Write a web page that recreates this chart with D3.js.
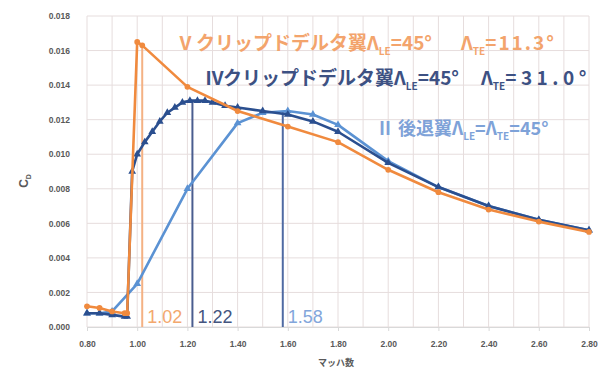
<!DOCTYPE html>
<html>
<head>
<meta charset="utf-8">
<script src="https://cdn.jsdelivr.net/npm/d3@7"></script>
<style>
  body { margin: 0; background: #fff; }
  svg text { font-family: "Liberation Sans", Arial, sans-serif; }
  .jp { font-family: "Noto Sans CJK JP", "Liberation Sans", sans-serif; font-weight: bold; }
</style>
</head>
<body>
<div id="chart"></div>
<script>
// data
const xTicks = [0.8, 1.0, 1.2, 1.4, 1.6, 1.8, 2.0, 2.2, 2.4, 2.6, 2.8];
const yTicks = [0, 0.002, 0.004, 0.006, 0.008, 0.010, 0.012, 0.014, 0.016, 0.018];

const machV = [0.80, 0.85, 0.90, 0.95, 0.96, 1.00, 1.02, 1.20, 1.40, 1.60, 1.80, 2.00, 2.20, 2.40, 2.60, 2.80];
const cdV   = [0.0012, 0.0011, 0.0009, 0.0008, 0.0008, 0.0165, 0.0163, 0.0139, 0.0125, 0.0116, 0.0107, 0.0091, 0.0078, 0.0068, 0.0061, 0.0055];

const machIV = [0.80, 0.85, 0.90, 0.95, 0.96, 0.98, 1.00, 1.03, 1.06, 1.09, 1.12, 1.15, 1.18, 1.21, 1.24, 1.27, 1.30, 1.35, 1.40, 1.50, 1.60, 1.70, 1.80, 2.00, 2.20, 2.40, 2.60, 2.80];
const cdIV   = [0.0008, 0.0008, 0.0007, 0.0006, 0.0006, 0.0090, 0.0100, 0.0107, 0.0113, 0.0119, 0.0124, 0.0127, 0.0130, 0.0131, 0.0131, 0.0131, 0.0130, 0.0128, 0.0127, 0.0125, 0.0123, 0.0119, 0.0113, 0.0095, 0.0081, 0.0070, 0.0062, 0.0056];

const machII = [0.80, 0.85, 0.90, 1.00, 1.20, 1.40, 1.50, 1.60, 1.70, 1.80, 2.00, 2.20, 2.40, 2.60, 2.80];
const cdII   = [0.0008, 0.0008, 0.0009, 0.0025, 0.0080, 0.0118, 0.0124, 0.0125, 0.0123, 0.0117, 0.0096, 0.0081, 0.0070, 0.0062, 0.0056];

const peakMach = [1.02, 1.22, 1.58];
const peakCd   = [0.0163, 0.0131, 0.0125];
const peakLabels = ["1.02", "1.22", "1.58"];

const width = 602, height = 376;
const margin = {top: 16, right: 13, bottom: 49, left: 87};

const svg = d3.select("#chart").append("svg")
    .attr("width", width)
    .attr("height", height);

const x = d3.scaleLinear().domain([0.8, 2.8]).range([margin.left, width - margin.right]);
const y = d3.scaleLinear().domain([0, 0.018]).range([height - margin.bottom, margin.top]);

// grid
svg.append("g")
    .selectAll("line")
    .data(d3.range(0, 21).map(i => 0.8 + i * 0.1))
    .enter().append("line")
    .attr("x1", d => x(d)).attr("x2", d => x(d))
    .attr("y1", y(0)).attr("y2", y(0.018))
    .attr("stroke", "#e6dddd").attr("stroke-width", 1);
svg.append("g")
    .selectAll("line")
    .data(yTicks)
    .enter().append("line")
    .attr("x1", x(0.8)).attr("x2", x(2.8))
    .attr("y1", d => y(d)).attr("y2", d => y(d))
    .attr("stroke", "#e6dddd").attr("stroke-width", 1);

// axes
const xAxis = svg.append("g")
    .attr("transform", `translate(0,${y(0)})`)
    .call(d3.axisBottom(x).tickValues(xTicks).tickFormat(d3.format(".2f")).tickSize(4).tickPadding(10));
xAxis.select(".domain").attr("stroke", "#d9d9d9");
xAxis.selectAll(".tick line").attr("stroke", "#d9d9d9");
xAxis.selectAll("text").attr("fill", "#595959").style("font-size", "8.5px").style("font-weight", "bold");

const yAxis = svg.append("g")
    .attr("transform", `translate(${x(0.8) - 14},0)`)
    .call(d3.axisLeft(y).tickValues(yTicks).tickFormat(d3.format(".3f")).tickSize(0));
yAxis.select(".domain").remove();
yAxis.selectAll("text").attr("fill", "#595959").style("font-size", "8.5px").style("font-weight", "bold");

// axis titles
svg.append("text")
    .attr("class", "jp")
    .attr("x", 336).attr("y", 366)
    .attr("text-anchor", "middle")
    .attr("fill", "#595959")
    .style("font-size", "9px")
    .text("マッハ数");
const yt = svg.append("text")
    .attr("transform", "translate(28,181) rotate(-90)")
    .attr("text-anchor", "middle")
    .attr("fill", "#595959")
    .style("font-size", "12px").style("font-weight", "bold");
yt.append("tspan").text("C");
yt.append("tspan").attr("dy", 3).style("font-size", "7px").text("D");

// peak reference lines
const refColors = ["#f4b183", "#4a5d8f", "#4f6aa3"];
const labelColors = ["#f3a86e", "#44557f", "#82a6db"];
svg.append("g")
    .selectAll("line")
    .data(peakMach)
    .enter().append("line")
    .attr("x1", d => x(d)).attr("x2", d => x(d))
    .attr("y1", y(0)).attr("y2", (d, i) => y(peakCd[i]))
    .attr("stroke", (d, i) => refColors[i]).attr("stroke-width", 2);
svg.append("g")
    .selectAll("text")
    .data(peakMach)
    .enter().append("text")
    .attr("x", d => x(d) + 5)
    .attr("y", y(0) - 4)
    .attr("fill", (d, i) => labelColors[i])
    .style("font-size", "18px")
    .text((d, i) => peakLabels[i]);

// series
const series = [
  {mach: machII, cd: cdII, color: "#5b92d3", symbol: d3.symbolTriangle},
  {mach: machIV, cd: cdIV, color: "#2b4f8f", symbol: d3.symbolTriangle},
  {mach: machV, cd: cdV, color: "#f08a3e", symbol: d3.symbolCircle}
];

const line = d3.line().x(d => x(d[0])).y(d => y(d[1]));

series.forEach(s => {
  const pts = s.mach.map((m, i) => [m, s.cd[i]]);
  svg.append("path")
      .datum(pts)
      .attr("d", line)
      .attr("fill", "none")
      .attr("stroke", s.color)
      .attr("stroke-width", 2.6)
      .attr("stroke-linejoin", "round");
  svg.append("g")
      .selectAll("path")
      .data(pts)
      .enter().append("path")
      .attr("transform", d => `translate(${x(d[0])},${y(d[1])})`)
      .attr("d", d3.symbol().type(s.symbol).size(26))
      .attr("fill", s.color);
});

// annotations
function label(xp, yp, color, size, parts) {
  const t = svg.append("text")
      .attr("class", "jp")
      .attr("x", xp).attr("y", yp)
      .attr("fill", color)
      .style("font-size", size + "px");
  parts.forEach(p => {
    const ts = t.append("tspan");
    if (p.sub) ts.attr("dy", 5).style("font-size", "10px").text(p.sub);
    else ts.attr("dy", p.up ? -5 : 0).text(p.text);
    if (p.at) ts.attr("x", p.at);
    if (p.ls) ts.style("letter-spacing", p.ls + "px");
  });
  return t;
}

label(176, 50, "#f3a46c", 19, [
  {text: "Ⅴ"}, {text: "クリップドデルタ翼", at: 196}, {text: "Λ"}, {sub: "LE"}, {text: "=45°", up: true},
  {text: "Λ", at: 461}, {sub: "TE"}, {text: "=11.3°", up: true, ls: 2}
]);
label(205, 85, "#3d5183", 19, [
  {text: "Ⅳ"}, {text: "クリップドデルタ翼", at: 223}, {text: "Λ"}, {sub: "LE"}, {text: "=45°", up: true},
  {text: "Λ", at: 481}, {sub: "TE"}, {text: "=31.0°", up: true, ls: 4.5}
]);
label(376, 135, "#7ea2d8", 18, [
  {text: "Ⅱ"}, {text: "後退翼", at: 398}, {text: "Λ"}, {sub: "LE"}, {text: "=Λ", up: true}, {sub: "TE"}, {text: "=45°", up: true}
]);
</script>
</body>
</html>
